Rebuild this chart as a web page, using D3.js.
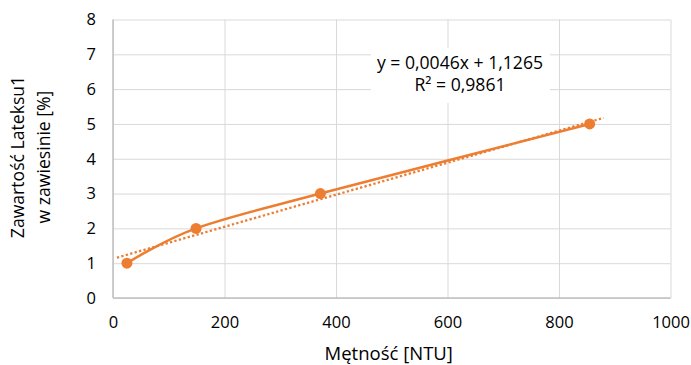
<!DOCTYPE html>
<html>
<head>
<meta charset="utf-8">
<script src="https://cdn.jsdelivr.net/npm/d3@7"></script>
<style>
  body { margin: 0; background: #fff; }
  svg { display: block; font-family: "Open Sans", sans-serif; }
  .grid line { stroke: #d9d9d9; stroke-width: 1; }
  .grid .domain { display: none; }
  .tick text { fill: #000; }
</style>
</head>
<body>
<div id="chart"></div>
<script>
    var width = 691,
        height = 365;

    // data
    var turbidity = [25, 149, 372, 855];
    var latexPct = [1, 2, 3, 5];
    var xTicks = [0, 200, 400, 600, 800, 1000];
    var yTicks = [0, 1, 2, 3, 4, 5, 6, 7, 8];
    var trendSlope = 0.0046,
        trendIntercept = 1.1265,
        trendRange = [7, 880];
    var eqLines = ["y = 0,0046x + 1,1265", "R² = 0,9861"];
    var xTitle = "Mętność [NTU]";
    var yTitle = ["Zawartość Lateksu1", "w zawiesinie [%]"];

    var orange = "#ed7d31";

    var x = d3.scaleLinear().domain([0, 1000]).range([113, 670.5]);
    var y = d3.scaleLinear().domain([0, 8]).range([298, 19.5]);

    var svg = d3.select("#chart").append("svg")
      .attr("width", width)
      .attr("height", height);

    // gridlines
    svg.append("g")
      .attr("class", "grid")
      .attr("transform", "translate(0," + y(0) + ")")
      .call(d3.axisBottom(x).tickValues(xTicks).tickSize(-(y(0) - y(8))).tickFormat(""));

    svg.append("g")
      .attr("class", "grid")
      .attr("transform", "translate(" + x(0) + ",0)")
      .call(d3.axisLeft(y).tickValues(yTicks).tickSize(-(x(1000) - x(0))).tickFormat(""));

    // axis lines
    svg.append("line")
      .attr("x1", x(0)).attr("x2", x(0))
      .attr("y1", y(8)).attr("y2", y(0))
      .attr("stroke", "#bfbfbf").attr("stroke-width", 1.5);
    svg.append("line")
      .attr("x1", x(0)).attr("x2", x(1000))
      .attr("y1", y(0)).attr("y2", y(0))
      .attr("stroke", "#bfbfbf").attr("stroke-width", 1.5);

    // tick labels
    var xAxis = svg.append("g")
      .attr("transform", "translate(0," + y(0) + ")")
      .call(d3.axisBottom(x).tickValues(xTicks).tickSize(0).tickPadding(18).tickFormat(d3.format("d")));
    xAxis.select(".domain").remove();
    xAxis.selectAll("text").style("font-size", "16.5px").style("font-family", "'Open Sans'");

    var yAxis = svg.append("g")
      .attr("transform", "translate(" + x(0) + ",0)")
      .call(d3.axisLeft(y).tickValues(yTicks).tickSize(0).tickPadding(17).tickFormat(d3.format("d")));
    yAxis.select(".domain").remove();
    yAxis.selectAll("text").style("font-size", "16.5px").style("font-family", "'Open Sans'");

    // equation box
    var eq = svg.append("g");
    eq.append("rect")
      .attr("x", 371).attr("y", 48)
      .attr("width", 179).attr("height", 55)
      .attr("fill", "#fff");
    eq.selectAll("text")
      .data(eqLines)
      .enter().append("text")
      .attr("x", 460)
      .attr("y", function(d, i) { return 69 + i * 22; })
      .attr("text-anchor", "middle")
      .style("font-size", "17.6px")
      .text(function(d) { return d; });

    // trendline (dotted)
    svg.append("line")
      .attr("x1", x(trendRange[0]))
      .attr("y1", y(trendIntercept + trendSlope * trendRange[0]))
      .attr("x2", x(trendRange[1]))
      .attr("y2", y(trendIntercept + trendSlope * trendRange[1]))
      .attr("stroke", orange)
      .attr("stroke-width", 2.3)
      .attr("stroke-dasharray", "2.3,2.3");

    // smoothed series line
    var pts = turbidity.map(function(d, i) { return [d, latexPct[i]]; });
    var line = d3.line()
      .x(function(d) { return x(d[0]); })
      .y(function(d) { return y(d[1]); })
      .curve(d3.curveCardinal.tension(0));

    svg.append("path")
      .datum(pts)
      .attr("d", line)
      .attr("fill", "none")
      .attr("stroke", orange)
      .attr("stroke-width", 2.5);

    svg.selectAll(".dot")
      .data(pts)
      .enter().append("circle")
      .attr("class", "dot")
      .attr("cx", function(d) { return x(d[0]); })
      .attr("cy", function(d) { return y(d[1]); })
      .attr("r", 5.5)
      .attr("fill", orange);

    // axis titles
    svg.append("text")
      .attr("x", (x(0) + x(1000)) / 2 - 3)
      .attr("y", 360)
      .attr("text-anchor", "middle")
      .style("font-size", "18.5px")
      .text(xTitle);

    var yt = svg.append("g")
      .attr("transform", "translate(0," + 157 + ") rotate(-90)");
    yt.selectAll("text")
      .data(yTitle)
      .enter().append("text")
      .attr("x", 0)
      .attr("y", function(d, i) { return 24 + i * 26; })
      .attr("text-anchor", "middle")
      .style("font-size", "17.6px")
      .text(function(d) { return d; });
</script>
</body>
</html>
